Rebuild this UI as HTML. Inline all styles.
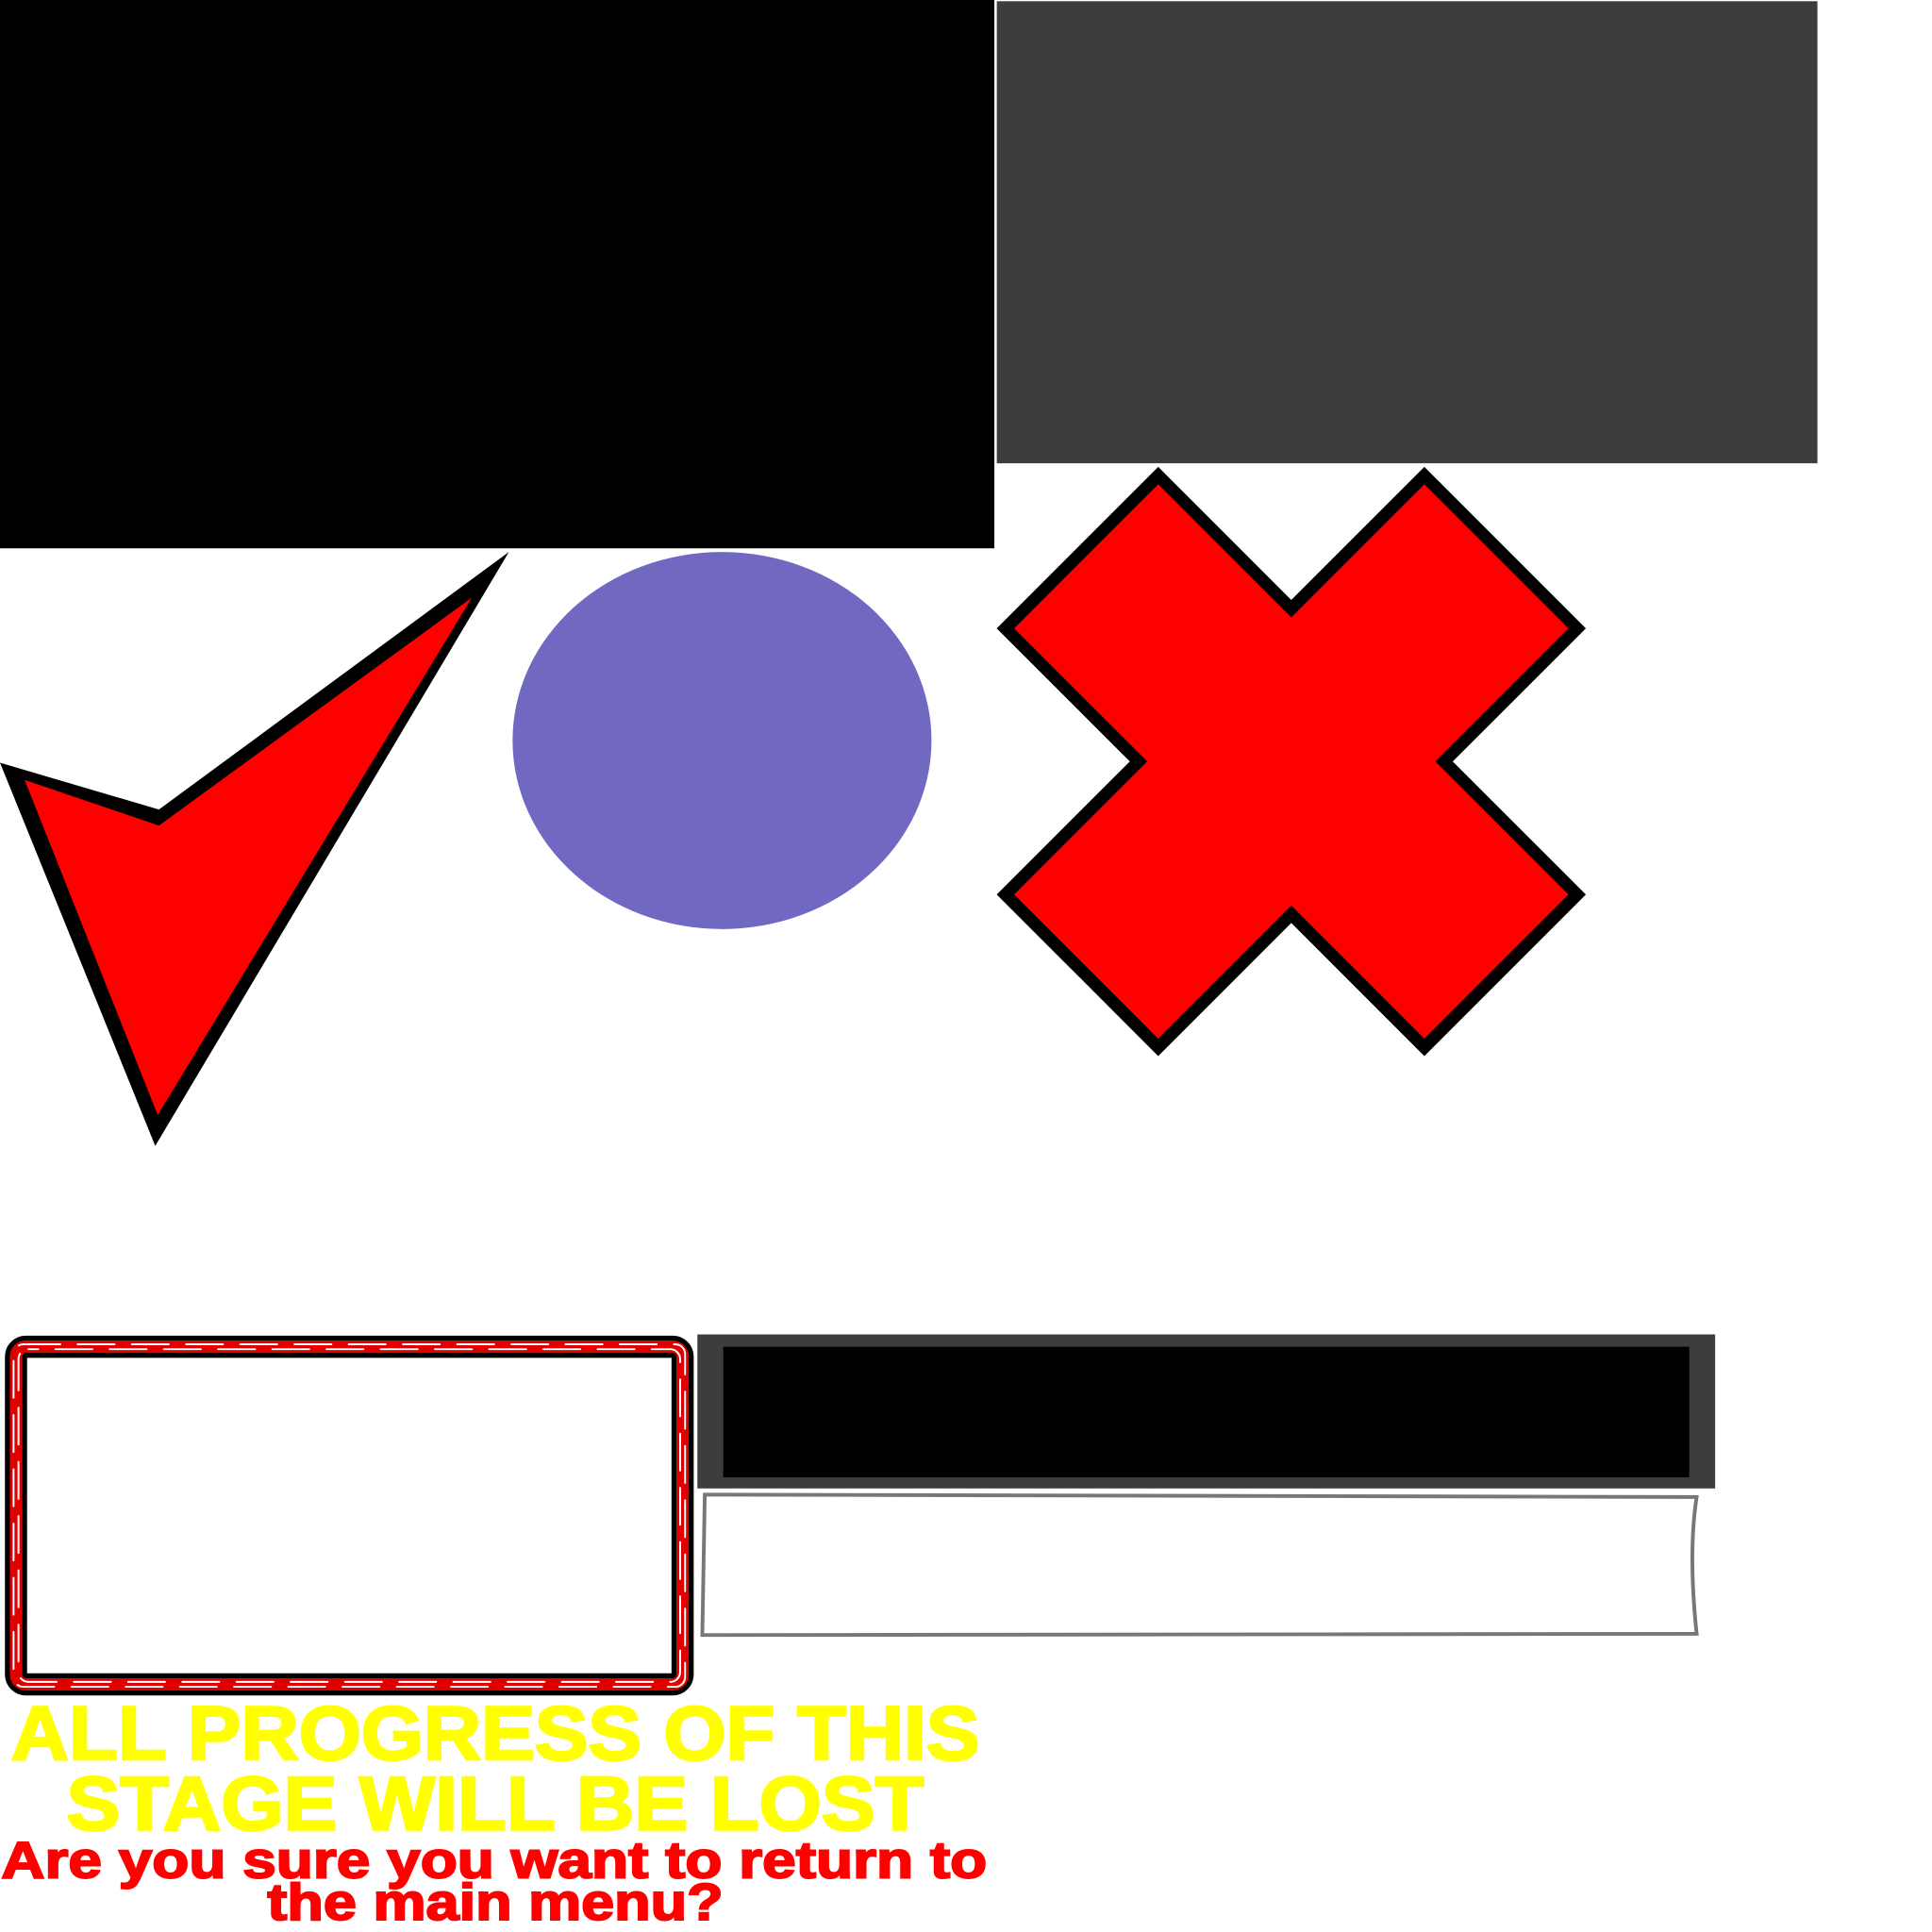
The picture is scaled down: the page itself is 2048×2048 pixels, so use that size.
<!DOCTYPE html>
<html><head><meta charset="utf-8"><style>
html,body{margin:0;padding:0;background:#fff;}
svg{display:block;}
</style></head><body>
<svg width="2048" height="2048" viewBox="0 0 1568 1568" xmlns="http://www.w3.org/2000/svg">
<rect x="0" y="0" width="807" height="445" fill="#000"/>
<rect x="809" y="1" width="666" height="375" fill="#3d3d3d"/>
<polygon points="413,448 129,657 0,619 126,930" fill="#000"/>
<polygon points="383,485 129,670 20,633 128,905" fill="#ff0000"/>
<ellipse cx="586" cy="601" rx="170" ry="153" fill="#7168c2"/>
<polygon points="940,386 1048,494 1156,386 1280,510 1172,618 1280,726 1156,850 1048,742 940,850 816,726 924,618 816,510" fill="#ff0000" stroke="#000" stroke-width="10"/>
<g fill="none" stroke-linecap="round">
<rect x="13" y="1093" width="541" height="274" rx="8" stroke="#000" stroke-width="18"/>
<rect x="13" y="1093" width="541" height="274" rx="8" stroke="#e00000" stroke-width="10"/>
<rect x="11" y="1091" width="545" height="278" rx="8" stroke="#fff" stroke-width="1.5" stroke-dasharray="30 14"/>
<rect x="15" y="1095" width="537" height="270" rx="8" stroke="#fff" stroke-width="1.5" stroke-dasharray="30 14" stroke-dashoffset="22"/>
</g>
<rect x="566" y="1083" width="826" height="125" fill="#3d3d3d"/>
<rect x="587" y="1093" width="784" height="106" fill="#000"/>
<path d="M572,1213 L1377,1215 Q1370,1260 1377,1326 L570,1327 Z" fill="#fff" stroke="#777" stroke-width="3"/>
<g font-family="Liberation Sans, sans-serif" font-weight="bold" text-anchor="middle">
<text x="402" y="1428" font-size="62" fill="#ffff00" stroke="#ffff00" stroke-width="2" textLength="786" lengthAdjust="spacingAndGlyphs">ALL PROGRESS OF THIS</text>
<text x="402" y="1485" font-size="62" fill="#ffff00" stroke="#ffff00" stroke-width="2" textLength="696" lengthAdjust="spacingAndGlyphs">STAGE WILL BE LOST</text>
<text x="401" y="1524" font-size="42" fill="#ff0000" stroke="#ff0000" stroke-width="1.5" textLength="800" lengthAdjust="spacingAndGlyphs">Are you sure you want to return to</text>
<text x="402" y="1558" font-size="42" fill="#ff0000" stroke="#ff0000" stroke-width="1.5" textLength="370" lengthAdjust="spacingAndGlyphs">the main menu?</text>
</g>
</svg>
</body></html>
